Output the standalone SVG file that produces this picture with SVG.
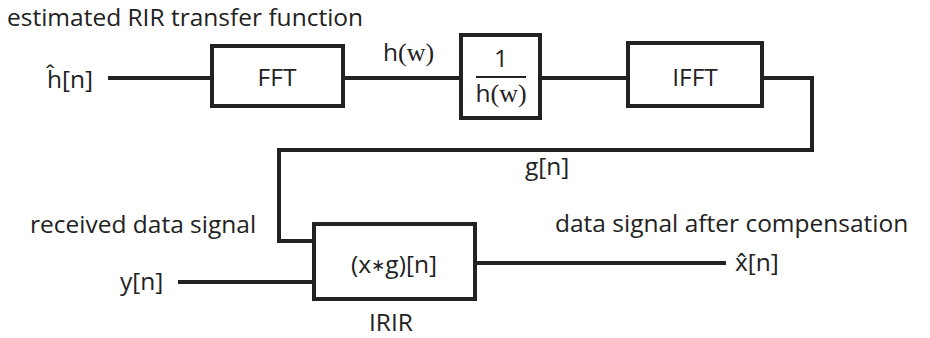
<svg xmlns="http://www.w3.org/2000/svg" width="930" height="338" viewBox="0 0 930 338">
<style>
text{font-family:"Open Sans","Noto Sans","DejaVu Sans",sans-serif;font-size:24.5px;fill:#222}
.box{fill:#fff;stroke:#222;stroke-width:4}
.ln{fill:none;stroke:#222;stroke-width:4}
.m{text-anchor:middle}
.w{font-family:"Liberation Serif","DejaVu Serif",serif;font-size:26px}
</style>
<rect width="930" height="338" fill="#fff"/>
<g id="connectors">
<line class="ln" x1="108" y1="78" x2="212" y2="78"/>
<line class="ln" x1="343" y1="78" x2="461" y2="78"/>
<line class="ln" x1="540" y1="78" x2="628" y2="78"/>
<polyline class="ln" points="762,78 812,78 812,150 279,150 279,241 314,241"/>
<line class="ln" x1="178" y1="282" x2="314" y2="282"/>
<line class="ln" x1="475" y1="263" x2="726" y2="263"/>
</g>
<g id="labels">
<text x="7" y="26">estimated RIR transfer function</text>
<text x="47" y="88">h&#x302;[n]</text>
<text x="383" y="61">h<tspan class="w">(w)</tspan></text>
<text x="525" y="175">g[n]</text>
<text x="30" y="233">received data signal</text>
<text x="120" y="290">y[n]</text>
<text x="555" y="232">data signal after compensation</text>
<text x="735" y="271">x&#x302;[n]</text>
</g>
<g id="fft">
<rect class="box" x="212" y="46" width="131" height="60"/>
<text class="m" x="277" y="86">FFT</text>
</g>
<g id="inverse">
<rect class="box" x="461" y="35" width="79" height="83"/>
<text class="m" x="501" y="67">1</text>
<line x1="476" y1="77" x2="526" y2="77" stroke="#222" stroke-width="2"/>
<text class="m" x="501" y="102">h<tspan class="w">(w)</tspan></text>
</g>
<g id="ifft">
<rect class="box" x="628" y="43" width="134" height="63"/>
<text class="m" x="695" y="86">IFFT</text>
</g>
<g id="irir">
<rect class="box" x="314" y="224" width="161" height="75"/>
<text class="m" x="394" y="273">(x<tspan font-size="17" dy="-2">∗</tspan><tspan dy="2">g)[n]</tspan></text>
<text class="m" x="391" y="331">IRIR</text>
</g>
</svg>
